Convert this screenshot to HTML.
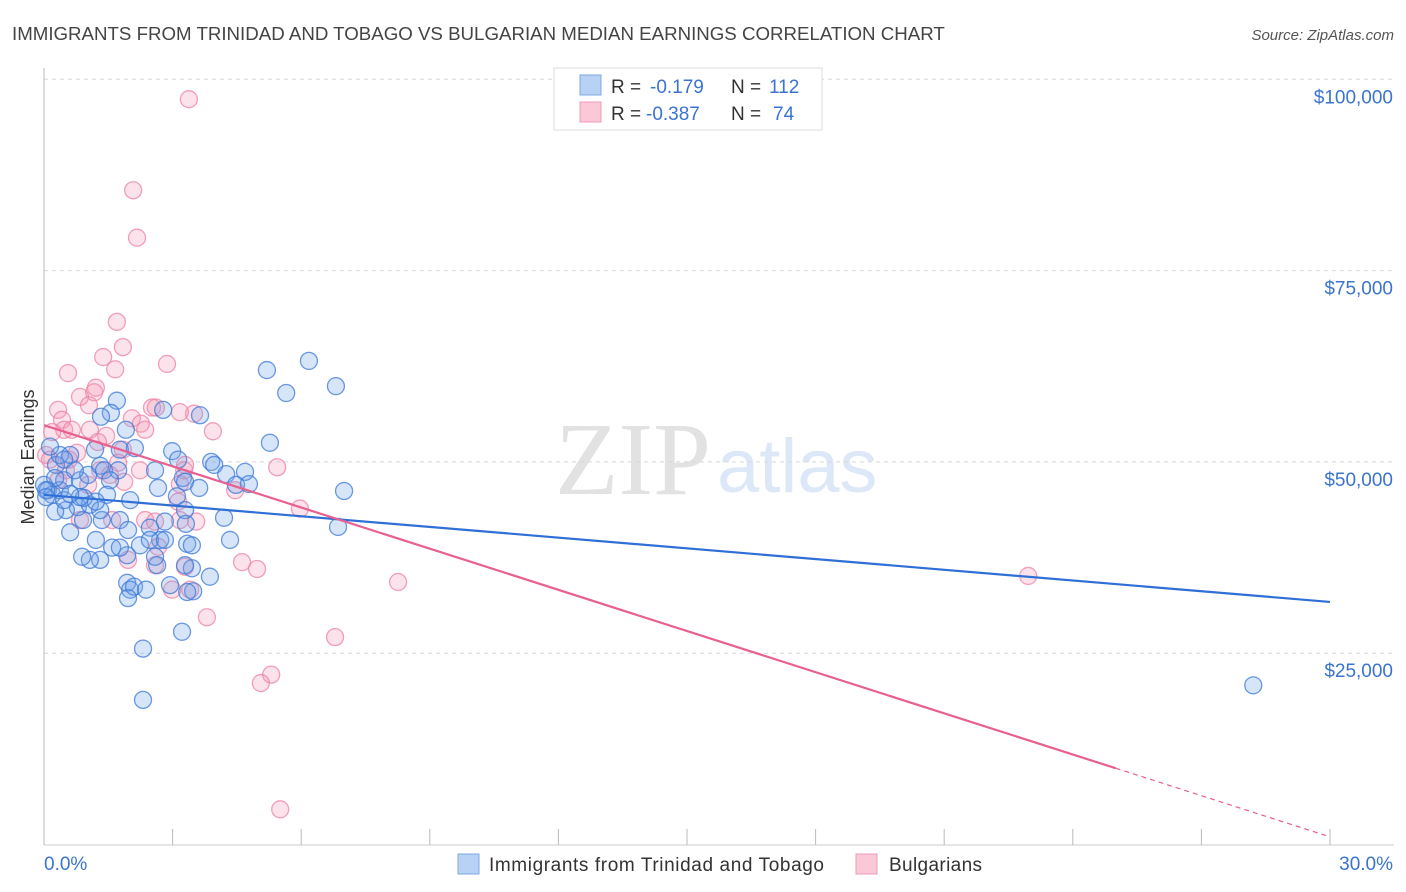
<!DOCTYPE html>
<html><head><meta charset="utf-8"><style>
body{margin:0;background:#fff;font-family:"Liberation Sans",sans-serif;}
svg{display:block}
</style></head><body>
<svg id="chart" width="1406" height="892" viewBox="0 0 1406 892">
<text x="12" y="40" font-size="18.7" fill="#444">IMMIGRANTS FROM TRINIDAD AND TOBAGO VS BULGARIAN MEDIAN EARNINGS CORRELATION CHART</text>
<text x="1394" y="40" font-size="15" fill="#555" font-style="italic" text-anchor="end">Source: ZipAtlas.com</text>
<text x="555" y="494" font-size="104" fill="#e2e2e2" font-family="Liberation Serif, serif">ZIP</text>
<text x="717" y="492" font-size="76" fill="#dce7f7">atlas</text>
<text transform="translate(34,457) rotate(-90)" font-size="18" fill="#333" text-anchor="middle">Median Earnings</text>
<g id="grid"></g>
<g id="marks"></g>
<g>
<rect x="554" y="68" width="268" height="62" fill="#fff" stroke="#ddd"/>
<rect x="580" y="75" width="21" height="20" fill="#b8d2f5" stroke="#7ea8e8"/>
<rect x="580" y="102" width="21" height="20" fill="#fbc8d7" stroke="#f29bb6"/>
<text x="611" y="93" font-size="19" fill="#333">R = </text><text x="650" y="93" font-size="19" fill="#3a74d0">-0.179</text>
<text x="731" y="93" font-size="19" fill="#333">N = </text><text x="769" y="93" font-size="19" fill="#3a74d0">112</text>
<text x="611" y="120" font-size="19" fill="#333">R = </text><text x="646" y="120" font-size="19" fill="#3a74d0">-0.387</text>
<text x="731" y="120" font-size="19" fill="#333">N = </text><text x="773" y="120" font-size="19" fill="#3a74d0">74</text>
</g>
<g>
<rect x="458" y="854" width="21" height="20" fill="#b8d2f5" stroke="#7ea8e8"/>
<text x="489" y="871" font-size="19" fill="#333" textLength="335">Immigrants from Trinidad and Tobago</text>
<rect x="856" y="854" width="21" height="20" fill="#fbc8d7" stroke="#f29bb6"/>
<text x="889" y="871" font-size="19" fill="#333" textLength="93">Bulgarians</text>
</g>
</svg>
<script>
const yTicks=[25000,50000,75000,100000];
const yTickLabels=["$25,000","$50,000","$75,000","$100,000"];
const xTickLabels=["0.0%","30.0%"];
const blueX=[5.20,6.18,6.81,5.65,5.27,7.00,6.86,28.21,2.31,2.31,3.22,1.70,1.56,1.33,2.78,3.64,1.91,2.99,3.13,3.90,4.69,2.59,3.24,4.25,4.48,4.78,3.62,2.66,3.10,4.20,4.34,3.29,3.31,2.82,2.71,1.77,1.96,2.47,2.24,1.59,1.94,1.31,1.07,0.89,0.61,1.21,0.91,0.79,0.51,0.26,0.09,0.19,0.37,0.00,0.47,0.84,1.03,1.31,1.40,0.72,0.28,0.37,0.61,1.19,1.77,1.73,1.54,1.47,1.07,2.12,2.01,2.47,3.34,3.45,3.87,3.45,2.64,1.94,2.01,2.10,2.38,1.96,1.77,3.48,3.34,2.94,2.59,3.29,2.82,3.97,3.29,0.47,0.14,0.26,0.05,0.05,1.35,1.31,0.93,1.21,0.84,0.47,0.61];
const blueY=[62.0,63.2,59.9,59.0,52.5,46.2,41.5,20.8,18.9,25.6,27.8,58.0,56.4,55.9,56.8,56.1,54.2,51.4,50.3,50.0,48.7,48.9,47.9,48.4,47.0,47.1,46.6,46.6,45.5,42.7,39.8,43.7,41.9,42.2,39.8,42.4,41.1,41.4,39.1,38.8,37.8,37.2,37.2,37.6,40.8,39.8,42.4,44.1,43.7,43.5,46.3,45.7,46.3,47.0,47.6,47.6,48.3,49.5,48.9,48.9,49.6,50.9,50.9,51.6,51.6,48.9,47.6,45.7,44.4,51.8,45.0,39.8,39.3,39.1,35.0,36.1,36.5,34.2,33.3,33.7,33.3,32.2,38.8,33.1,33.0,33.9,37.6,36.5,39.8,49.6,47.4,50.3,52.0,47.9,46.3,45.4,42.4,43.7,45.3,44.8,45.4,45.0,45.8];
const pinkX=[3.38,2.08,2.17,1.70,1.84,1.38,1.66,2.87,0.56,1.21,1.17,0.84,1.05,0.33,0.42,0.47,0.65,0.19,1.07,1.45,2.52,2.61,2.05,2.26,2.36,3.50,3.94,3.17,1.26,1.84,0.77,0.58,1.73,1.31,1.54,1.03,1.87,3.27,3.17,3.29,5.44,4.46,5.97,0.05,0.14,0.84,2.24,2.36,2.59,3.17,2.66,2.59,1.96,2.99,3.29,3.41,3.80,4.62,4.97,6.79,8.26,22.96,5.30,5.06,5.51,3.13,3.55,0.51,0.33,1.59];
const pinkY=[97.4,85.5,79.3,68.3,65.0,63.7,62.1,62.8,61.6,59.7,59.1,58.5,57.4,56.8,55.5,54.2,54.2,53.9,54.2,53.4,57.1,57.1,55.7,55.0,54.2,56.3,54.0,56.5,52.6,51.6,51.2,50.3,49.9,48.9,48.3,47.0,47.4,48.9,47.1,49.6,49.3,46.3,43.9,50.9,50.3,42.4,48.9,42.4,42.2,42.4,38.9,36.5,37.2,33.3,36.3,33.3,29.7,36.9,36.0,27.1,34.3,35.1,22.2,21.1,4.6,44.8,42.2,48.9,47.6,42.4];
const blueTrend=[45.7,31.7];
const pinkTrend=[54.8,1.0];
const pinkSolidEnd=25;

const NS="http://www.w3.org/2000/svg";
const X0=44,X1=1330,Y0=844.5,PXK=191.3/25;
const sx=v=>X0+(v/30)*(X1-X0);
const sy=k=>Y0-k*PXK;
function mk(tag,attrs,parent){const e=document.createElementNS(NS,tag);for(const k in attrs)e.setAttribute(k,attrs[k]);parent.appendChild(e);return e;}
const grid=document.getElementById('grid'),marks=document.getElementById('marks');
yTicks.forEach((t,i)=>{
  const y=sy(t/1000);
  const l=mk('line',{x1:X0,x2:1394,y1:y,y2:y,stroke:'#d8d8d8','stroke-dasharray':'4,4'},grid);
  
  
  const tx=mk('text',{x:1393,y:y+24,'font-size':19,fill:'#3a74d0','text-anchor':'end'},grid);
  tx.textContent=yTickLabels[i];
  
  
});
const ax=mk('line',{x1:X0,x2:1394,y1:845,y2:845,stroke:'#ccc'},grid);


const ay=mk('line',{x1:X0,x2:X0,y1:68,y2:845,stroke:'#bbb'},grid);


for(let i=0;i<=10;i++){const x=sx(i*3);
  const t=mk('line',{x1:x,x2:x,y1:829,y2:845,stroke:'#bbb'},grid);
  
  }
const xl0=mk('text',{x:44,y:870,'font-size':19,fill:'#3a74d0'},grid);xl0.textContent=xTickLabels[0];


const xl1=mk('text',{x:1393,y:870,'font-size':19,fill:'#3a74d0','text-anchor':'end'},grid);xl1.textContent=xTickLabels[1];



pinkX.forEach((v,i)=>{const c=mk('circle',{cx:sx(v),cy:sy(pinkY[i]),r:8.5,fill:'rgba(244,150,180,0.28)',stroke:'rgba(236,130,165,0.75)','stroke-width':1.3},marks);
  
  });
blueX.forEach((v,i)=>{const c=mk('circle',{cx:sx(v),cy:sy(blueY[i]),r:8.5,fill:'rgba(110,160,235,0.28)',stroke:'rgba(60,120,215,0.75)','stroke-width':1.3},marks);
  
  });
const bl=mk('line',{x1:sx(0),y1:sy(blueTrend[0]),x2:sx(30),y2:sy(blueTrend[1]),stroke:'#2f6fd6','stroke-width':2.2},marks);


const pm=pinkTrend[0]+(pinkTrend[1]-pinkTrend[0])*pinkSolidEnd/30;
const pl=mk('line',{x1:sx(0),y1:sy(pinkTrend[0]),x2:sx(pinkSolidEnd),y2:sy(pm),stroke:'#e8608f','stroke-width':2.2},marks);


const pd=mk('line',{x1:sx(pinkSolidEnd),y1:sy(pm),x2:sx(30),y2:sy(pinkTrend[1]),stroke:'#e8608f','stroke-width':1.2,'stroke-dasharray':'5,4'},marks);


</script>
</body></html>
